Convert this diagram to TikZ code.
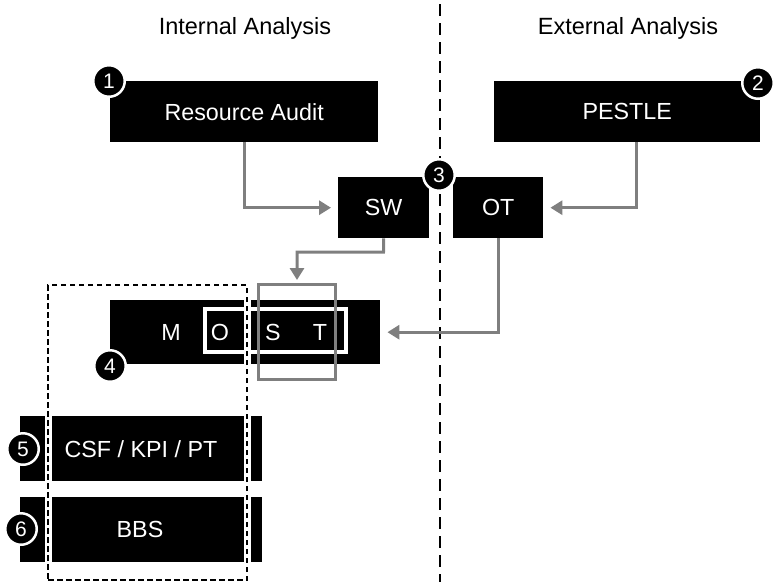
\documentclass[tikz,border=0pt]{standalone}
\usepackage{fontspec}
\setmainfont{Liberation Sans}
\usetikzlibrary{arrows.meta}
\definecolor{arrowgray}{HTML}{7F7F7F}
\begin{document}
\begin{tikzpicture}[x=1pt,y=-1pt,
  blackbox/.style={fill=black, draw=none, text=white, font=\fontsize{23.3}{27}\selectfont, inner sep=0pt, anchor=north west},
  header/.style={font=\fontsize{23.5}{28}\selectfont, inner sep=0pt},
  numc/.style={circle, fill=black, draw=white, line width=2.5pt, text=white, minimum size=31.5pt, inner sep=0pt, font=\fontsize{21}{21}\selectfont},
  letter/.style={text=white, font=\fontsize{23.3}{27}\selectfont, inner sep=0pt},
  conn/.style={draw=arrowgray, line width=3pt, -{Triangle[length=12pt,width=14pt]}},
  middash/.style={draw=black, line width=1.2pt, dash pattern=on 12pt off 7pt},
  groupwhite/.style={draw=white, line width=7pt, minimum width=199pt, minimum height=295pt, inner sep=0pt},
  groupdash/.style={draw=black, line width=2.3pt, dash pattern=on 5.5pt off 3.5pt, minimum width=199pt, minimum height=295pt, inner sep=0pt},
  ostbox/.style={draw=white, line width=4pt, minimum width=141pt, minimum height=43pt, inner sep=0pt},
  focusbox/.style={draw=arrowgray, line width=3pt, minimum width=77pt, minimum height=95pt, inner sep=0pt}
]
\useasboundingbox (0,0) rectangle (779,582);

% middle divider
\coordinate (divtop) at (440,4);
\coordinate (divbot) at (440,582);
\draw[middash] (divtop) -- (divbot);

% headers
\node[header] (hint) at (245,28) {Internal Analysis};
\node[header] (hext) at (628,28) {External Analysis};

% boxes
\node[blackbox, minimum width=268pt, minimum height=61pt] (ra) at (110,81) {Resource Audit};
\node[blackbox, minimum width=266pt, minimum height=61pt] (pe) at (494,81) {PESTLE};
\node[blackbox, minimum width=91pt, minimum height=61pt] (sw) at (338,177) {SW};
\node[blackbox, minimum width=90pt, minimum height=61pt] (ot) at (453,177) {OT};
\node[blackbox, minimum width=270pt, minimum height=64pt] (most) at (110,300) {};
\node[blackbox, minimum width=242pt, minimum height=65pt] (csf) at (20,416) {};
\node[blackbox, minimum width=242pt, minimum height=65pt] (bbs) at (20,497) {};
\node[letter] (csft) at (141,449) {CSF / KPI / PT};
\node[letter] (bbst) at (140,529) {BBS};

% MOST letters
\node[letter] (lm) at (171,332) {M};
\node[letter] (lo) at (220,332) {O};
\node[letter] (ls) at (273,332) {S};
\node[letter] (lt) at (320,332) {T};
\node[ostbox] (ost) at (275.5,330.5) {};

% dashed group
\node[groupwhite] (groupw) at (147.5,432.5) {};
\node[groupdash] (group) at (147.5,432.5) {};

% focus box
\node[focusbox] (focus) at (297,332) {};

% connectors
\draw[conn, shorten >=7pt] (ra.south) |- (sw.west);
\draw[conn, shorten >=7pt] ([xshift=9pt]pe.south) |- (ot.east);
\coordinate (swbend) at (383.5,252);
\draw[conn, shorten >=3pt] (sw.south) -- (swbend) -| (focus.north);
\draw[conn, shorten >=7pt] (ot.south) |- (most.east);

% numbers
\node[numc] (n1) at (109,81) {1};
\node[numc] (n2) at (758,83) {2};
\node[numc] (n3) at (439,175) {3};
\node[numc] (n4) at (110,366) {4};
\node[numc] (n5) at (23,449) {5};
\node[numc] (n6) at (21,529) {6};
\end{tikzpicture}
\end{document}
